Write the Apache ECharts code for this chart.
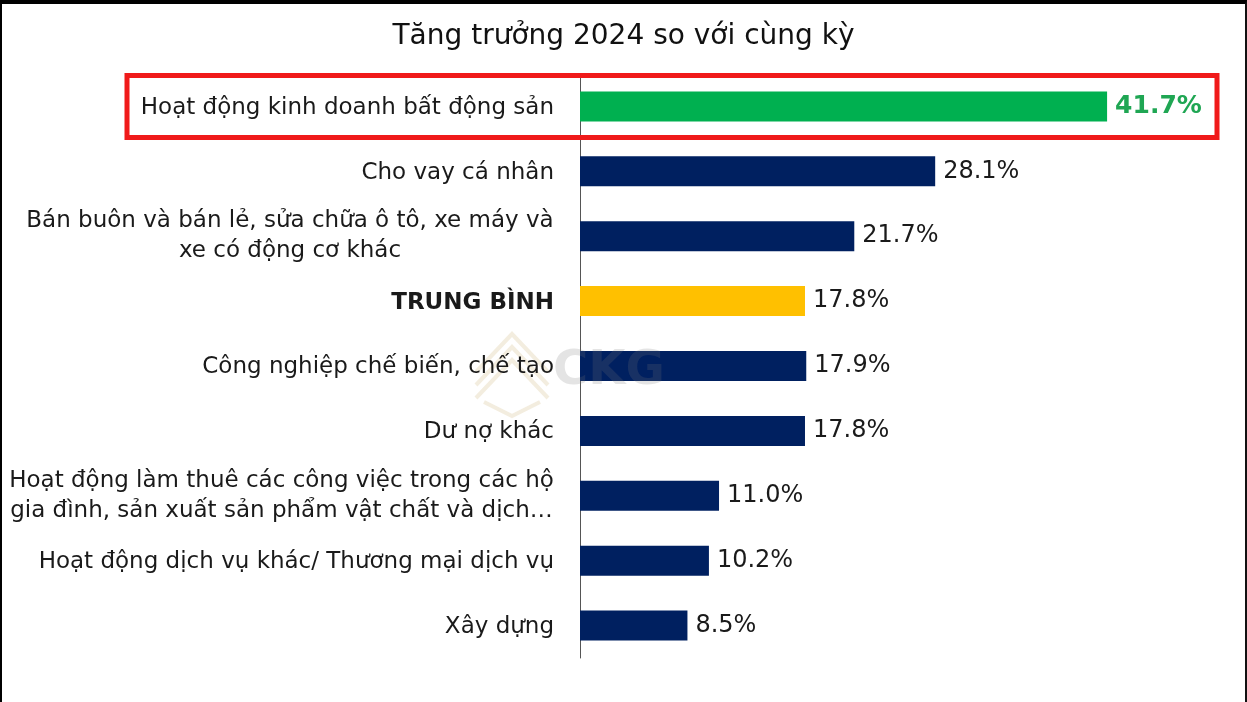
<!DOCTYPE html>
<html><head><meta charset="utf-8">
<script src="https://cdn.jsdelivr.net/npm/echarts@6/dist/echarts.min.js"></script>
<style>
html,body{margin:0;padding:0;background:#fff}
#c{width:1247px;height:702px}
#frame{position:absolute;left:0;top:0;width:1247px;height:702px;box-sizing:border-box;border-top:4px solid #000;border-left:2px solid #000;border-right:2px solid #111;pointer-events:none}
</style>
</head><body><div id="c"></div><div id="frame"></div>
<script>
const titleText = 'Tăng trưởng 2024 so với cùng kỳ';
const categories = [
  'Hoạt động kinh doanh bất động sản',
  'Cho vay cá nhân',
  'Bán buôn và bán lẻ, sửa chữa ô tô, xe máy và\nxe có động cơ khác',
  'TRUNG BÌNH',
  'Công nghiệp chế biến, chế tạo',
  'Dư nợ khác',
  'Hoạt động làm thuê các công việc trong các hộ\ngia đình, sản xuất sản phẩm vật chất và dịch…',
  'Hoạt động dịch vụ khác/ Thương mại dịch vụ',
  'Xây dựng'
];
const values = [41.7, 28.1, 21.7, 17.8, 17.9, 17.8, 11.0, 10.2, 8.5];
const highlightIndex = 0;
const averageIndex = categories.indexOf('TRUNG BÌNH');

const FONT = '"DejaVu Sans", Verdana, sans-serif';
const LABEL_SIZE = 23;
const ctx = document.createElement('canvas').getContext('2d');
function measure(t, weight) {
  ctx.font = (weight || 'normal') + ' ' + LABEL_SIZE + 'px ' + FONT;
  return ctx.measureText(t).width;
}
const rich = {
  n: {fontSize: LABEL_SIZE, fontFamily: FONT, color: '#1a1a1a', lineHeight: 30, padding: [3, 0, 0, 0]},
  b: {fontSize: LABEL_SIZE, fontFamily: FONT, color: '#1a1a1a', fontWeight: 'bold', lineHeight: 30, padding: [3, 0, 0, 0]}
};
categories.forEach((c, i) => {
  const lines = c.split('\n');
  if (lines.length > 1) {
    const w = Math.max(...lines.map(l => measure(l)));
    rich['m' + i] = {fontSize: LABEL_SIZE, fontFamily: FONT, color: '#1a1a1a', lineHeight: 30, width: Math.ceil(w), align: 'center'};
  }
});

const colorNavy = '#002060', colorGreen = '#00b050', colorGold = '#ffc000';
const seriesData = values.map((v, i) => {
  const item = {value: v, itemStyle: {color: i === highlightIndex ? colorGreen : (i === averageIndex ? colorGold : colorNavy)}};
  if (i === highlightIndex) item.label = {color: '#1fa653', fontWeight: 'bold', fontSize: 25};
  return item;
});

const chart = echarts.init(document.getElementById('c'), null, {renderer: 'canvas'});
chart.setOption({
  backgroundColor: '#fff',
  animation: false,
  title: {
    text: titleText, left: 'center', top: 18,
    textStyle: {fontFamily: FONT, fontSize: 28, fontWeight: 'normal', color: '#111'}
  },
  grid: {left: 580, right: 35, top: 74, bottom: 44, containLabel: false},
  xAxis: {type: 'value', min: 0, max: 50, show: false},
  yAxis: {
    type: 'category', data: categories, inverse: true,
    axisLine: {show: true, lineStyle: {color: '#555', width: 1}},
    axisTick: {show: false},
    splitLine: {show: false},
    axisLabel: {
      margin: 26, align: 'right', rich: rich,
      formatter: (v, i) => {
        const idx = categories.indexOf(v);
        const lines = v.split('\n');
        if (lines.length > 1) return lines.map(l => '{m' + idx + '|' + l + '}').join('\n');
        return (idx === averageIndex ? '{b|' : '{n|') + v + '}';
      }
    }
  },
  series: [{
    type: 'bar', data: seriesData, barWidth: 30, z: 3,
    label: {
      show: true, position: 'right', distance: 8,
      fontFamily: FONT, fontSize: 24, color: '#1a1a1a',
      formatter: p => p.value.toFixed(1) + '%'
    }
  }]
});

const yRow0 = chart.convertToPixel({yAxisIndex: 0}, categories[highlightIndex]);
const wm = 'rgba(215,195,150,0.3)';
chart.setOption({
  graphic: [
    {type: 'rect', z: 10, shape: {x: 127, y: yRow0 - 31, width: 1090, height: 62},
     style: {fill: 'none', stroke: '#f01a1a', lineWidth: 5}},
    {type: 'group', z: 0, silent: true, children: [
      {type: 'polyline', shape: {points: [[476, 372], [512, 334], [548, 372]]}, style: {fill: 'none', stroke: wm, lineWidth: 4}},
      {type: 'polyline', shape: {points: [[476, 385], [512, 347], [548, 385]]}, style: {fill: 'none', stroke: wm, lineWidth: 4}},
      {type: 'polyline', shape: {points: [[476, 398], [512, 360], [548, 398]]}, style: {fill: 'none', stroke: wm, lineWidth: 4}},
      {type: 'polyline', shape: {points: [[484, 402], [512, 416], [540, 402]]}, style: {fill: 'none', stroke: wm, lineWidth: 4}},
      {type: 'text', x: 553, y: 348, z: 5, style: {text: 'CKG', font: 'bold 48px ' + FONT, fill: 'rgba(120,120,120,0.2)'}}
    ]}
  ]
});
</script>
</body></html>
